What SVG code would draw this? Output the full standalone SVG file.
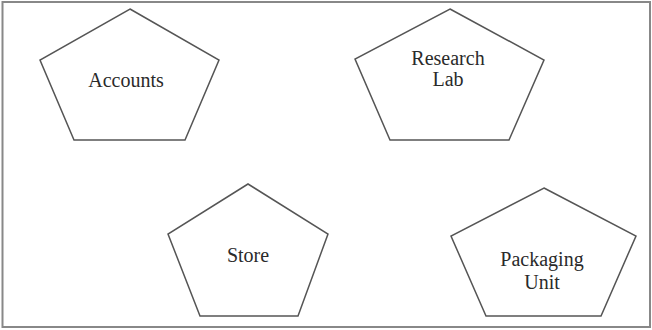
<svg xmlns="http://www.w3.org/2000/svg" width="652" height="330" viewBox="0 0 652 330">
<style>
.shape{fill:#fff;stroke:#555;stroke-width:1.5;stroke-linejoin:miter}
.lbl{font-family:'Liberation Serif','Times New Roman','DejaVu Serif',serif;font-size:20px;fill:#2a2a2a;text-anchor:middle}
</style>
<rect x="0" y="0" width="652" height="330" fill="#fff"/>
<rect x="2.5" y="2" width="647.5" height="325" fill="none" stroke="#888" stroke-width="2"/>
<g id="connectors"></g>
<g id="accounts">
<polygon class="shape" points="130,9 219,60 185,140 74,140 40,60"/>
<text class="lbl" font-family="Liberation Serif, serif" x="126" y="87">Accounts</text>
</g>
<g id="research-lab">
<polygon class="shape" points="450,9 544,60 509,140 390,140 355,59"/>
<text class="lbl" x="448" y="65">Research</text>
<text class="lbl" x="448" y="86">Lab</text>
</g>
<g id="store">
<polygon class="shape" points="248,184 328,234 298,316 200,316 168,234"/>
<text class="lbl" x="248" y="262">Store</text>
</g>
<g id="packaging-unit">
<polygon class="shape" points="544,188 636,236 601,316 486,316 451,236"/>
<text class="lbl" x="542" y="266">Packaging</text>
<text class="lbl" x="542" y="289">Unit</text>
</g>
</svg>
